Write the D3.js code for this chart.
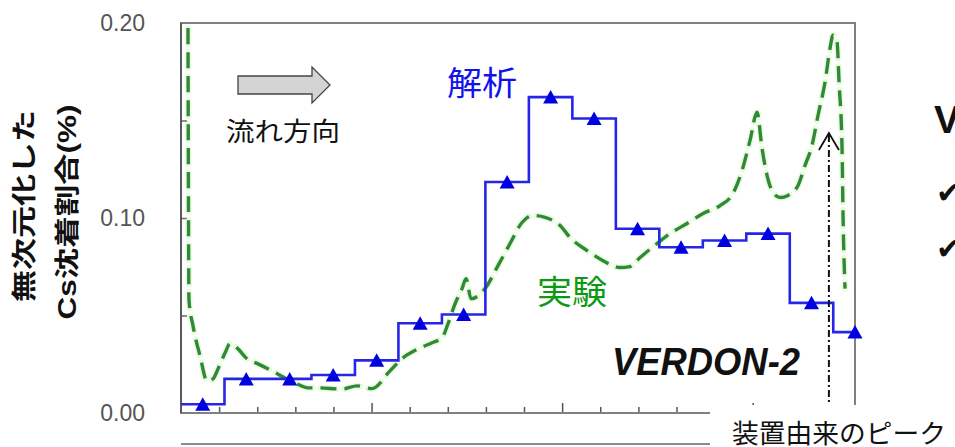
<!DOCTYPE html>
<html>
<head>
<meta charset="utf-8">
<script src="https://cdn.jsdelivr.net/npm/d3@7"></script>
<style>
  html, body { margin: 0; padding: 0; background: #fff; }
  svg { display: block; }
</style>
</head>
<body>
<svg id="chart" width="955" height="447"></svg>
<script>
// Normalised Cs deposition along the flow path (VERDON-2)
// Analysis: one value per segment (segment i spans [i, i+1])
const analysisValues = [0.0045, 0.0175, 0.0175, 0.0195, 0.027, 0.046, 0.0505, 0.1185,
                        0.162, 0.151, 0.0945, 0.085, 0.0885, 0.092, 0.0565, 0.0415];

// Experiment: measured profile, position in segment units
const expPos = [0.161, 0.184, 0.276, 0.437, 0.598, 0.736, 0.851, 1.012, 1.127, 1.288,
                1.518, 1.771, 2.093, 2.392, 2.622, 2.921, 3.151, 3.703, 4.048, 4.393,
                4.807, 5.106, 5.451, 5.773, 6.003, 6.141, 6.302, 6.463, 6.555, 6.670,
                6.992, 7.291, 7.567, 7.843, 8.096, 8.372, 8.717, 8.947, 9.338, 9.706,
                10.097, 10.327, 10.557, 10.948, 11.247, 11.638, 12.006, 12.397, 12.695, 12.903,
                13.086, 13.247, 13.362, 13.477, 13.592, 13.776, 13.960, 14.190, 14.351, 14.512,
                14.650, 14.811, 14.926, 14.995, 15.087, 15.133, 15.202, 15.225, 15.271];
const expValues = [0.1974, 0.0576, 0.0447, 0.0293, 0.0165, 0.0175, 0.0226, 0.0308, 0.0355, 0.0334,
                   0.0278, 0.0252, 0.0216, 0.0180, 0.0154, 0.0129, 0.0129, 0.0123, 0.0139, 0.0125,
                   0.0216, 0.0283, 0.0329, 0.0360, 0.0386, 0.0458, 0.0560, 0.0638, 0.0689, 0.0586,
                   0.0638, 0.0756, 0.0869, 0.0977, 0.1013, 0.1003, 0.0962, 0.0900, 0.0833, 0.0781,
                   0.0746, 0.0751, 0.0797, 0.0869, 0.0920, 0.0972, 0.1023, 0.1064, 0.1126, 0.1244,
                   0.1398, 0.1542, 0.1357, 0.1219, 0.1141, 0.1105, 0.1116, 0.1167, 0.1270, 0.1373,
                   0.1527, 0.1697, 0.1871, 0.1938, 0.1902, 0.1697, 0.1357, 0.1013, 0.0638];

const yTickValues = [0, 0.1, 0.2];
const yMinorTicks = [0.05, 0.10, 0.15];
const xTickStep = 0.8765;            // bottom-axis tick spacing in segment units
const xTickCount = 17;
const xMajorEvery = 5;
const xDomainMax = 15.5;             // the plot ends half way through the last segment
const devicePeakPos = 14.9;          // position of the apparatus-related peak marker

const svg = d3.select("#chart");
const W = 955, H = 447;
const plot = { left: 181, right: 855, top: 23, bottom: 413 };

const x = d3.scaleLinear().domain([0, xDomainMax]).range([plot.left, plot.right]);
const y = d3.scaleLinear().domain([0, 0.2]).range([plot.bottom, plot.top]);

const jp = "'Noto Sans CJK JP', 'Noto Sans', sans-serif";
const latin = "'Liberation Sans', Arial, 'Noto Sans CJK JP', sans-serif";

svg.append("rect").attr("width", W).attr("height", H).attr("fill", "#fff");

// ---- axes -------------------------------------------------------------
const yAxis = svg.append("g")
  .attr("transform", `translate(${plot.left},0)`)
  .call(d3.axisLeft(y).tickValues(yTickValues).tickFormat(d3.format(".2f"))
        .tickSize(0).tickPadding(36));
yAxis.select(".domain").remove();
yAxis.selectAll("text")
  .attr("font-family", latin).attr("font-size", 23).attr("fill", "#555");

svg.append("g")
  .attr("transform", `translate(${plot.left},0)`)
  .call(d3.axisRight(y).tickValues(yMinorTicks).tickSize(6).tickFormat(""))
  .call(g => g.select(".domain").remove())
  .selectAll("line").attr("stroke", "#666").attr("stroke-width", 1.5);

const xTicks = d3.range(1, xTickCount + 1).map(k => k * xTickStep).filter(v => v < xDomainMax);
svg.append("g")
  .attr("transform", `translate(0,${plot.bottom})`)
  .call(d3.axisTop(x).tickValues(xTicks).tickSize(6).tickFormat(""))
  .call(g => g.select(".domain").remove())
  .selectAll(".tick line")
  .attr("y2", (d, i) => ((i + 1) % xMajorEvery === 0 ? -10 : -6))
  .attr("stroke", "#555").attr("stroke-width", 1.5);

// plot frame
svg.append("rect")
  .attr("x", plot.left).attr("y", plot.top)
  .attr("width", plot.right - plot.left).attr("height", plot.bottom - plot.top)
  .attr("fill", "none").attr("stroke", "#808080").attr("stroke-width", 2);
svg.append("line")
  .attr("x1", plot.left).attr("x2", plot.left).attr("y1", plot.top).attr("y2", plot.bottom)
  .attr("stroke", "#5a5a5a").attr("stroke-width", 2);

// lower rule under the chart
svg.append("line")
  .attr("x1", plot.left).attr("x2", 712).attr("y1", 444).attr("y2", 444)
  .attr("stroke", "#8a8a8a").attr("stroke-width", 2);

// ---- experiment (dashed green) ----------------------------------------
const expData = expPos.map((p, i) => [p, expValues[i]]);
const expLine = d3.line().x(d => x(d[0])).y(d => y(d[1])).curve(d3.curveMonotoneX);
svg.append("path")
  .attr("d", expLine(expData))
  .attr("fill", "none")
  .attr("stroke", "#c8f0b0").attr("stroke-width", 6.5).attr("stroke-opacity", 0.35)
  .attr("stroke-dasharray", "16,8").attr("stroke-linecap", "round");
svg.append("path")
  .attr("d", expLine(expData))
  .attr("fill", "none")
  .attr("stroke", "#2f8a35").attr("stroke-width", 3.4)
  .attr("stroke-dasharray", "16,8");

// ---- analysis (blue step line with triangles) -------------------------
const stepData = analysisValues.map((v, i) => [i, v]);
stepData.push([xDomainMax, analysisValues[analysisValues.length - 1]]);
const stepLine = d3.line().x(d => x(d[0])).y(d => y(d[1])).curve(d3.curveStepAfter);
svg.append("path")
  .attr("d", stepLine(stepData))
  .attr("fill", "none").attr("stroke", "#2626e6").attr("stroke-width", 2.6);

svg.append("g").selectAll("path")
  .data(analysisValues)
  .join("path")
  .attr("transform", (v, i) => `translate(${x(i + 0.5)},${y(v) + 1})`)
  .attr("d", "M0,-8L7.5,5.5L-7.5,5.5Z")
  .attr("fill", "#0000e0");

// ---- apparatus-peak marker (dash-dot arrow) ---------------------------
const mx = x(devicePeakPos);
svg.append("line")
  .attr("x1", mx).attr("x2", mx).attr("y1", 135).attr("y2", 405)
  .attr("stroke", "#111").attr("stroke-width", 2).attr("stroke-dasharray", "7,3,2,3");
svg.append("path")
  .attr("d", `M${mx - 10},150L${mx},133L${mx + 10},150`)
  .attr("fill", "none").attr("stroke", "#111").attr("stroke-width", 1.8);

// label panel below the plot on the right
svg.append("rect").attr("x", 710).attr("y", 405).attr("width", W - 710).attr("height", H - 405)
  .attr("fill", "#fff");
svg.append("text")
  .attr("x", 732).attr("y", 443)
  .attr("font-family", jp).attr("font-size", 26).attr("fill", "#111")
  .attr("textLength", 214).attr("lengthAdjust", "spacingAndGlyphs")
  .text("装置由来のピーク");

// ---- flow direction arrow --------------------------------------------
svg.append("path")
  .attr("d", "M238,76H312V67L330,85L312,103V94H238Z")
  .attr("fill", "#d4d4d4").attr("stroke", "#444").attr("stroke-width", 1.3);
svg.append("text")
  .attr("x", 226).attr("y", 141)
  .attr("font-family", jp).attr("font-size", 26).attr("fill", "#111")
  .attr("textLength", 114).attr("lengthAdjust", "spacingAndGlyphs")
  .text("流れ方向");

// ---- series labels ---------------------------------------------------
svg.append("text")
  .attr("x", 447).attr("y", 95)
  .attr("font-family", jp).attr("font-size", 33).attr("fill", "#1212ee")
  .attr("textLength", 70).attr("lengthAdjust", "spacingAndGlyphs")
  .text("解析");
svg.append("text")
  .attr("x", 537).attr("y", 304)
  .attr("font-family", jp).attr("font-size", 33).attr("fill", "#0c9a12")
  .attr("textLength", 70).attr("lengthAdjust", "spacingAndGlyphs")
  .text("実験");

svg.append("text")
  .attr("x", 612).attr("y", 375)
  .attr("font-family", latin).attr("font-size", 38).attr("font-weight", "bold")
  .attr("font-style", "italic").attr("fill", "#111")
  .attr("textLength", 188).attr("lengthAdjust", "spacingAndGlyphs")
  .text("VERDON-2");

// ---- y-axis title ----------------------------------------------------
const yTitle = svg.append("g").attr("font-family", latin).attr("font-weight", "bold")
  .attr("fill", "#111");
yTitle.append("text")
  .attr("transform", "translate(33,206) rotate(-90)")
  .attr("text-anchor", "middle").attr("font-size", 25)
  .attr("textLength", 192).attr("lengthAdjust", "spacingAndGlyphs")
  .text("無次元化した");
yTitle.append("text")
  .attr("transform", "translate(76,212) rotate(-90)")
  .attr("text-anchor", "middle").attr("font-size", 25)
  .attr("textLength", 215).attr("lengthAdjust", "spacingAndGlyphs")
  .text("Cs沈着割合(%)");

// ---- side notes (continuing beyond the right edge) -------------------
svg.append("text")
  .attr("x", 934).attr("y", 133)
  .attr("font-family", latin).attr("font-size", 39).attr("font-weight", "bold")
  .attr("fill", "#111").text("V");
svg.append("g").attr("font-family", "'DejaVu Sans', sans-serif").attr("font-size", 30)
  .attr("font-weight", "bold").attr("fill", "#111")
  .selectAll("text").data([203, 259]).join("text")
  .attr("x", 936).attr("y", d => d).text("✔");
</script>
</body>
</html>
